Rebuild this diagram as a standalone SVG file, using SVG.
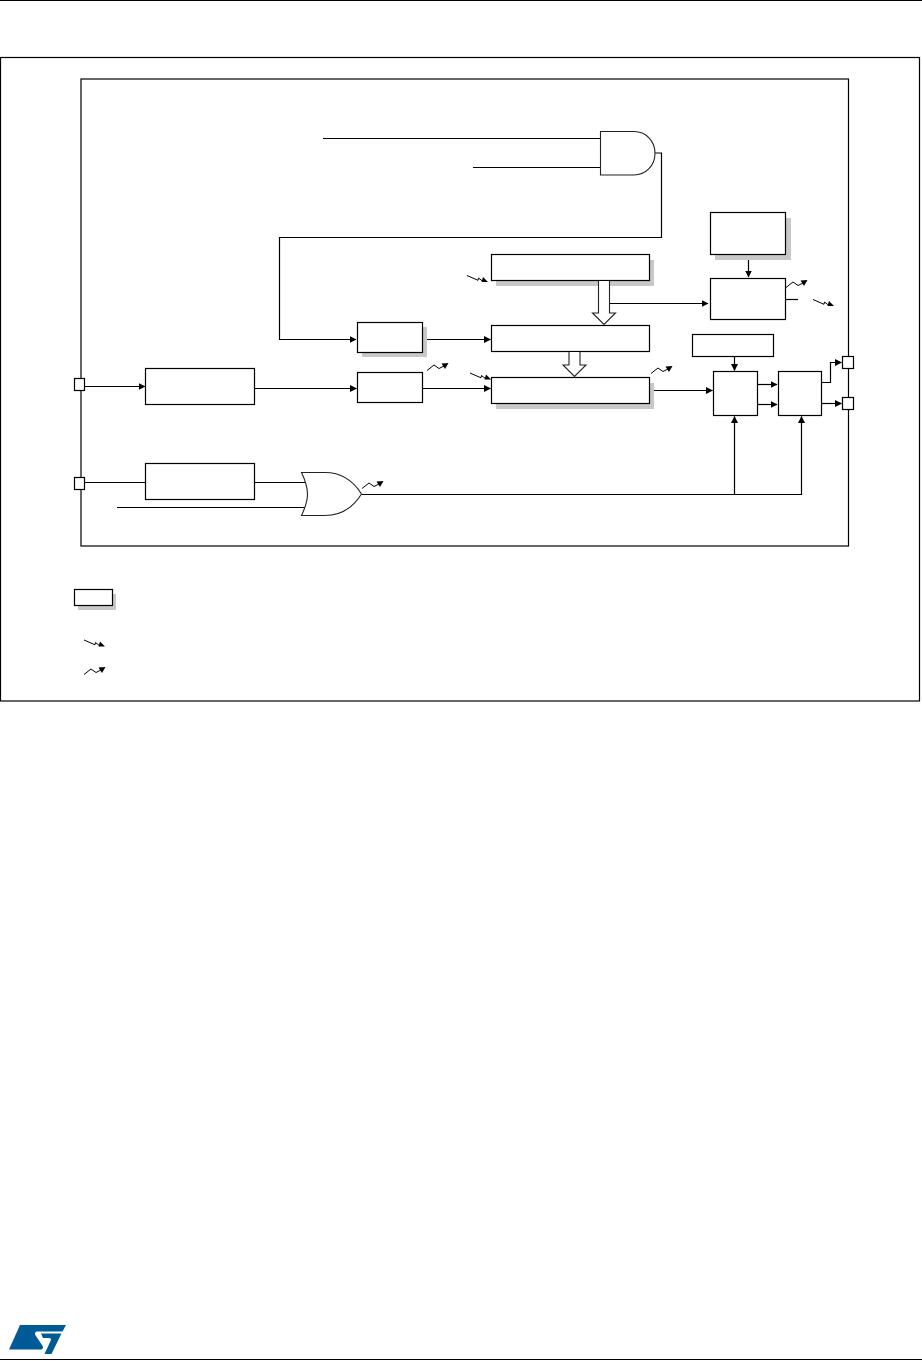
<svg xmlns="http://www.w3.org/2000/svg" width="922" height="1361" viewBox="0 0 922 1361">
<style>
.l{fill:none;stroke:#000;stroke-width:1.2}
.b{fill:#fff;stroke:#000;stroke-width:1.2}
.g{fill:#fff;stroke:#222;stroke-width:1.1}
.s{fill:#c8c8c8}
.t{fill:none;stroke:#000;stroke-width:1}
.h{fill:#000}
</style>
<defs>
<marker id="a" markerWidth="7" markerHeight="7" refX="6.500" refY="3.500" orient="auto" markerUnits="userSpaceOnUse"><path d="M0 0L7 3.500L0 7Z" fill="#000"/></marker>
<g id="up"><path class="t" d="M0 7.500L7 2L12 5.500L17 3"/><path class="h" d="M21.500 0L14.500 .5L18 6Z"/></g>
<g id="br"><path class="t" d="M0 0L11 4.800L11.500 2.500L16 6"/><path class="h" d="M21 6.500L14.500 6.500L16 1.500Z"/></g>
</defs>
<rect id="page-band" width="922" height="1" y="0" fill="#000"/>
<rect id="page-foot" x="0" y="1359" width="922" height="1" fill="#000"/>
<g id="logo" fill="#005a96">
<path d="M20 1325H66L62.500 1331.500H38C35 1331.500 34 1333 36 1336L42 1345C44 1348 43 1349.500 40 1349.500H9Z"/>
<path d="M41 1333.500H61.500L51.500 1354H44.500L50.500 1341C51.500 1339 51 1338 48.500 1338H43Z"/>
</g>
<rect id="frame" x=".5" y="57.500" width="919" height="643.500" class="l"/>
<rect id="block" x="81" y="79" width="767.500" height="467" class="l"/>
<g id="connectors">
<path class="l" d="M323 138.500H600"/>
<path class="l" d="M473 167.500H600"/>
<path class="l" d="M655 153H661.500V237.500H279.500V339.500H356" marker-end="url(#a)"/>
<path class="l" d="M85 386.500H145" marker-end="url(#a)"/>
<path class="l" d="M255 388.500H356.500" marker-end="url(#a)"/>
<path class="l" d="M423 339.500H490.500" marker-end="url(#a)"/>
<path class="l" d="M423 388.500H490.500" marker-end="url(#a)"/>
<path class="l" d="M610 303.500H708" marker-end="url(#a)"/>
<path class="l" d="M748.500 255V277" marker-end="url(#a)"/>
<path class="l" d="M786 299.500H798"/>
<path class="l" d="M650 390.500H712.500" marker-end="url(#a)"/>
<path class="l" d="M734.500 356.500V370.500" marker-end="url(#a)"/>
<path class="l" d="M756 384.500H777" marker-end="url(#a)"/>
<path class="l" d="M758 404.500H777" marker-end="url(#a)"/>
<path class="l" d="M822 382.500H830.500V362.500H841.500" marker-end="url(#a)"/>
<path class="l" d="M822 403.500H841.500" marker-end="url(#a)"/>
<path class="l" d="M85 482.500H145"/>
<path class="l" d="M255 482.500H306"/>
<path class="l" d="M117 507.500H306"/>
<path class="l" d="M361.500 494.500H801.500V416.500" marker-end="url(#a)"/>
<path class="l" d="M734.500 494V416.500" marker-end="url(#a)"/>
</g>
<g id="and-gate"><path class="g" d="M600.500 131.500H634C646 131.500 655 141 655 153.300C655 165.500 646 175 634 175H600.500Z"/></g>
<g id="or-gate"><path class="g" d="M301.500 472.500H325C342 472.500 354 482 361.500 494C354 506 342 515.500 325 515.500H301.500C306.500 505 307.500 500 307.500 494C307.500 488 306.500 483 301.500 472.500Z"/></g>
<g id="reg-top"><rect class="s" x="715" y="218" width="76" height="42"/><rect class="b" x="710.500" y="212.500" width="75" height="42"/></g>
<g id="box-right"><rect class="b" x="710.500" y="278.500" width="75" height="41"/></g>
<g id="wide1"><rect class="s" x="496" y="260" width="158" height="26"/><rect class="b" x="491.500" y="254.500" width="158" height="26"/></g>
<g id="wide2"><rect class="b" x="491.500" y="325.500" width="158" height="26"/></g>
<g id="wide3"><rect class="s" x="496" y="383" width="158" height="26"/><rect class="b" x="491.500" y="377.500" width="158" height="26"/></g>
<g id="small-top"><rect class="b" x="692.500" y="334.500" width="81" height="22"/></g>
<g id="mux1"><rect class="b" x="713.500" y="371.500" width="44" height="44"/></g>
<g id="mux2"><rect class="b" x="778.500" y="371.500" width="43" height="44"/></g>
<g id="box-a"><rect class="b" x="145.500" y="368.500" width="109" height="36"/></g>
<g id="box-b"><rect class="b" x="145.500" y="463.500" width="109" height="36"/></g>
<g id="small1"><rect class="s" x="362" y="327" width="65" height="30"/><rect class="b" x="357.500" y="322.500" width="65" height="30"/></g>
<g id="small2"><rect class="b" x="357.500" y="372.500" width="65" height="30"/></g>
<g id="pin-l1"><rect class="b" x="74.500" y="378.500" width="10" height="12"/></g>
<g id="pin-l2"><rect class="b" x="74.500" y="477.500" width="10" height="12"/></g>
<g id="pin-r1"><rect class="b" x="842.500" y="356.500" width="11" height="12"/></g>
<g id="pin-r2"><rect class="b" x="842.500" y="397.500" width="11" height="12"/></g>
<g id="bus1"><path class="g" d="M598.500 281V313H592.500L604 324.500L615.500 313H609.500V281"/></g>
<g id="bus2"><path class="g" d="M569 352V365H563L574.500 376.500L586 365H580V352"/></g>
<g id="legend-box"><rect class="s" x="78" y="594" width="38" height="16"/><rect class="b" x="74.500" y="589.500" width="38" height="16"/></g>
<g id="signals">
<use href="#br" x="467" y="275.500"/>
<use href="#br" x="470" y="373"/>
<use href="#br" x="813" y="299.500"/>
<use href="#br" x="84" y="640"/>
<use href="#up" x="786" y="280"/>
<use href="#up" x="651" y="366"/>
<use href="#up" x="427" y="363"/>
<use href="#up" x="362" y="481"/>
<use href="#up" x="84" y="667"/>
</g>
</svg>
